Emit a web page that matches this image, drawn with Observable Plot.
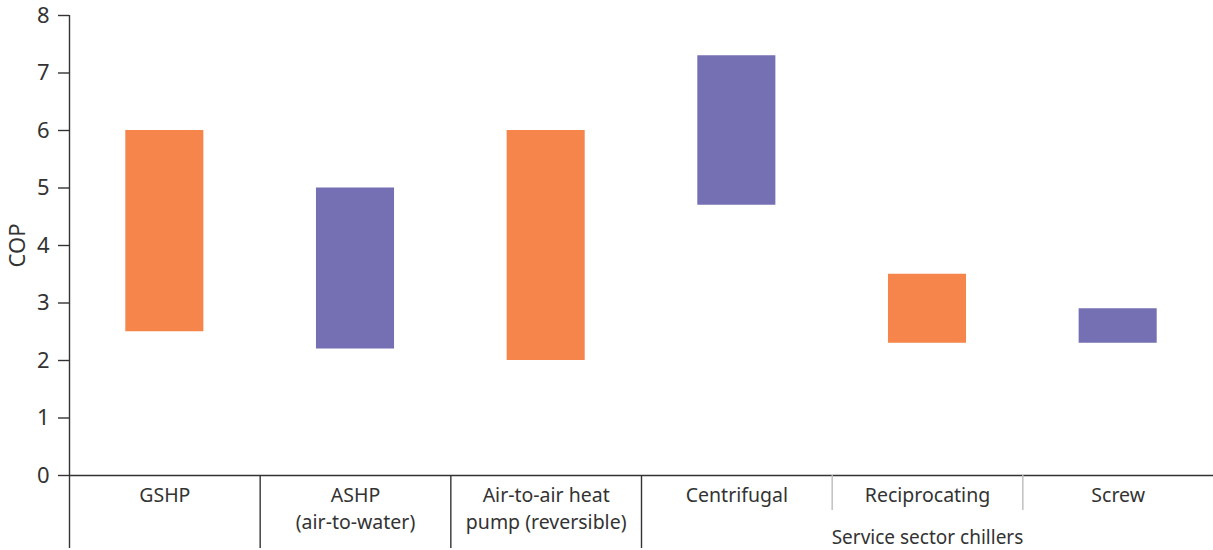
<!DOCTYPE html>
<html>
<head>
<meta charset="utf-8">
<script src="https://cdn.jsdelivr.net/npm/d3@7"></script>
<script src="https://cdn.jsdelivr.net/npm/@observablehq/plot@0.6"></script>
<style>
  html, body { margin: 0; padding: 0; background: #fff; }
  #chart svg { display: block; }
</style>
</head>
<body>
<div id="chart"></div>
<script>
const categories = ["GSHP", "ASHP\n(air-to-water)", "Air-to-air heat\npump (reversible)", "Centrifugal", "Reciprocating", "Screw"];
const lows  = [2.5, 2.2, 2.0, 4.7, 2.3, 2.3];
const highs = [6.0, 5.0, 6.0, 7.3, 3.5, 2.9];
const groups = ["A", "B", "A", "B", "A", "B"];
const yTicks = [0, 1, 2, 3, 4, 5, 6, 7, 8];
const groupLabel = "Service sector chillers";
const groupLabelAt = "Reciprocating";
const majorDividers = ["GSHP", "ASHP\n(air-to-water)", "Air-to-air heat\npump (reversible)", "Centrifugal"];
const minorDividers = ["Reciprocating", "Screw"];

const data = categories.map((c, i) => ({cat: c, lo: lows[i], hi: highs[i], g: groups[i]}));

const W = 1213, H = 550;
const mL = 69, mR = 0, mT = 15, mB = 75;
const bw = (W - mL - mR) / categories.length;
const font = "'Noto Sans', 'Open Sans', sans-serif";
const ink = "#333";

const chart = Plot.plot({
  width: W,
  height: H,
  marginLeft: mL,
  marginRight: mR,
  marginTop: mT,
  marginBottom: mB,
  style: {fontFamily: font, color: ink, background: "#fff", overflow: "visible"},
  x: {domain: categories, padding: 0, round: false, axis: null},
  y: {domain: [0, 8], axis: null},
  color: {domain: ["A", "B"], range: ["#F5854A", "#7570B3"]},
  marks: [
    Plot.barY(data, {x: "cat", y1: "lo", y2: "hi", fill: "g", insetLeft: 56.3, insetRight: 56.3}),
    Plot.axisY({ticks: yTicks, tickSize: 11, tickPadding: 9, fontSize: 22, stroke: ink, strokeWidth: 1.4,
      label: "COP", labelAnchor: "center", labelArrow: "none", labelOffset: 60, fill: ink}),
    Plot.ruleY([0], {stroke: ink, strokeWidth: 1.4}),
    Plot.ruleX([0], {x: () => categories[0], dx: -bw / 2, y1: 8, y2: 0, stroke: ink, strokeWidth: 1.4}),
    Plot.ruleX(majorDividers, {x: d => d, dx: -bw / 2, y1: 0, y2: -1.27, stroke: ink, strokeWidth: 1.4, clip: false}),
    Plot.ruleX(minorDividers, {x: d => d, dx: -bw / 2, y1: 0, y2: -0.61, stroke: "#bbb", strokeWidth: 1.4, clip: false}),
    Plot.text(categories, {x: d => d, y: 0, dy: 7, lineAnchor: "top", lineHeight: 1.38, fontSize: 19.5, fill: ink}),
    Plot.text([groupLabel], {x: () => groupLabelAt, y: 0, dy: 68, lineAnchor: "bottom", fontSize: 19, fill: ink})
  ]
});
document.getElementById("chart").appendChild(chart);
</script>
</body>
</html>
